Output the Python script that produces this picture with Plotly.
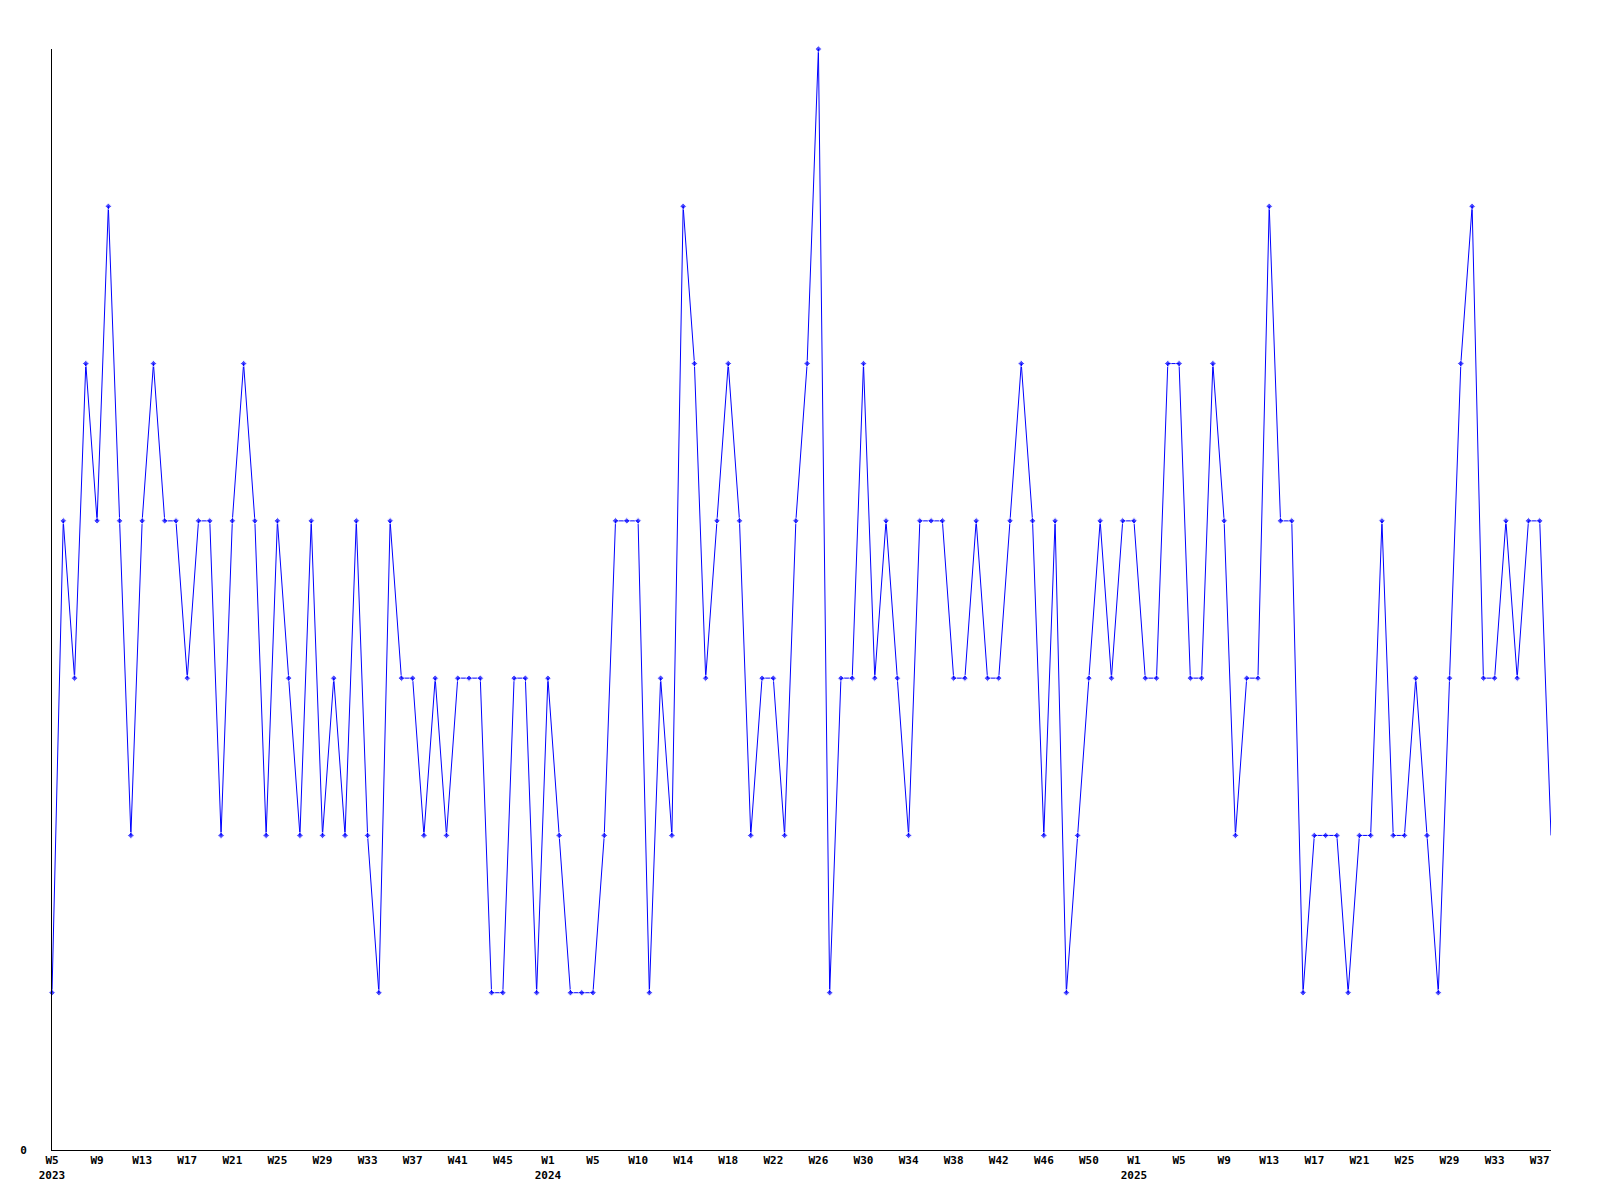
import plotly.graph_objects as go

# Week categories (only weeks present in the data)
weeks_2023 = [f"2023-W{w:02d}" for w in range(5, 49)]          # 44 weeks
weeks_2024 = ([f"2024-W{w:02d}" for w in range(1, 6)] +
              [f"2024-W{w:02d}" for w in (6, 7, 8)] +
              [f"2024-W{w:02d}" for w in range(10, 54)])       # 52 weeks
weeks_2025 = [f"2025-W{w:02d}" for w in range(1, 39)]          # 38 weeks
categories = weeks_2023 + weeks_2024 + weeks_2025

values = [1, 4, 3, 5, 4, 6, 4, 2, 4, 5,
          4, 4, 3, 4, 4, 2, 4, 5, 4, 2,
          4, 3, 2, 4, 2, 3, 2, 4, 2, 1,
          4, 3, 3, 2, 3, 2, 3, 3, 3, 1,
          1, 3, 3, 1, 3, 2, 1, 1, 1, 2,
          4, 4, 4, 1, 3, 2, 6, 5, 3, 4,
          5, 4, 2, 3, 3, 2, 4, 5, 7, 1,
          3, 3, 5, 3, 4, 3, 2, 4, 4, 4,
          3, 3, 4, 3, 3, 4, 5, 4, 2, 4,
          1, 2, 3, 4, 3, 4, 4, 3, 3, 5,
          5, 3, 3, 5, 4, 2, 3, 3, 6, 4,
          4, 1, 2, 2, 2, 1, 2, 2, 4, 2,
          2, 3, 2, 1, 3, 5, 6, 3, 3, 4,
          3, 4, 4, 2]

# tick labels every 4th category
tick_vals = categories[::4]
tick_text = []
for i, c in enumerate(tick_vals):
    year, wk = c.split("-W")
    label = f"<b>W{int(wk)}</b>"
    if i == 0 or int(wk) == 1:
        label += f"<br><b>{year}</b>"
    tick_text.append(label)

marker_sizes = [5] * (len(values) - 1) + [0]

fig = go.Figure()
fig.add_trace(go.Scatter(
    x=categories, y=values, mode="lines+markers",
    line=dict(color="#0000ff", width=1),
    marker=dict(symbol="diamond", size=marker_sizes, color="#0000ff"),
    cliponaxis=False, showlegend=False,
))

fig.update_layout(
    width=1600, height=1200,
    margin=dict(l=42, r=57, t=41, b=58),
    paper_bgcolor="white", plot_bgcolor="white",
    font=dict(family="DejaVu Sans Mono", size=11, color="black"),
    xaxis=dict(
        type="category", range=[0, len(categories) - 1],
        tickmode="array", tickvals=tick_vals, ticktext=tick_text,
        showline=True, linecolor="black", linewidth=1,
        showgrid=False, zeroline=False, ticks="", tickangle=0,
        tickfont=dict(family="DejaVu Sans Mono", size=11, color="black"),
    ),
    yaxis=dict(
        range=[0, 7], tickmode="array", tickvals=[0], ticktext=["<b>0</b>"],
        showline=True, linecolor="black", linewidth=1,
        showgrid=False, zeroline=False, ticks="",
        ticklabelstandoff=22,
        tickfont=dict(family="DejaVu Sans Mono", size=11, color="black"),
    ),
)

fig.write_html("out.html")
